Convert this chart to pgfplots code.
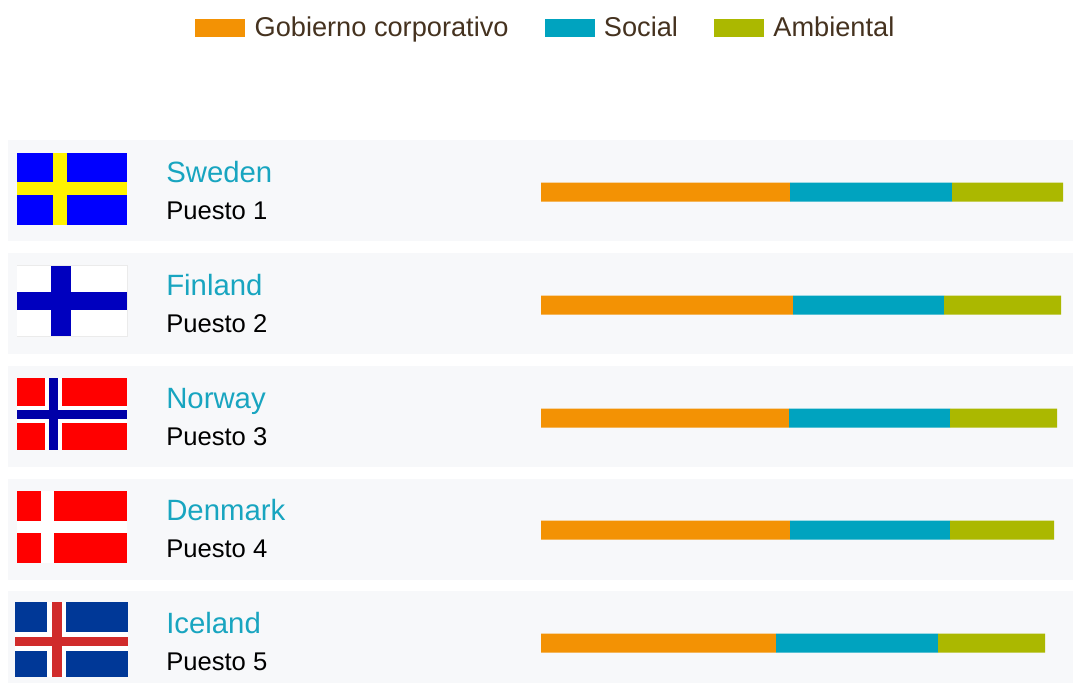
\documentclass[border=0pt]{standalone}
\usepackage{pgfplots}
\usepackage{pgfplotstable}
\usepackage{fontspec}
\pgfplotsset{compat=1.18}
\setmainfont{Liberation Sans}

\definecolor{gob}{HTML}{F39204}
\definecolor{soc}{HTML}{00A3BF}
\definecolor{amb}{HTML}{ABB800}
\definecolor{panel}{HTML}{F7F8FA}
\definecolor{legtext}{HTML}{45321F}
\definecolor{cname}{HTML}{18A5C0}
\definecolor{isblue}{HTML}{003897}
\definecolor{isred}{HTML}{D02B2B}

% rectangle given in picture pixels (bars start at x = 541)
\newcommand{\pxbox}[5]{\fill[#5] (axis cs:#1-541,#2) rectangle (axis cs:#3-541,#4);}
\newcommand{\country}[3]{%
  \node[anchor=base west,text=cname,font=\fontsize{22}{22}\selectfont,inner sep=0pt] at (axis cs:166-541,#2) {#1};
  \node[anchor=base west,text=black,font=\fontsize{19.2}{19.2}\selectfont,inner sep=0pt] at (axis cs:166-541,#2+37) {Puesto #3};
}

\pgfplotstableread{
y   gob soc amb
192 249 162 111
305 252 151 117
418 248 161 107
530 249 160 104
643 235 162 107
}\scores

\begin{document}
\begin{tikzpicture}
\begin{axis}[
    scale only axis,
    width=804.75pt, height=512.25pt,
    xmin=-541, xmax=532,
    ymin=0, ymax=683,
    y dir=reverse,
    hide axis,
    xbar stacked,
    reverse stacked plots=false,
    bar width=14.25pt,
    clip=false,
    legend columns=3,
    legend style={
        at={(axis cs:195-541,28)}, anchor=west,
        draw=none, fill=none, inner sep=0pt,
        font=\fontsize{20.4}{20.4}\selectfont, text=legtext,
        /tikz/column 1/.style={column sep=5pt},
        /tikz/column 2/.style={column sep=25pt},
        /tikz/column 3/.style={column sep=5pt},
        /tikz/column 4/.style={column sep=25pt},
        /tikz/column 5/.style={column sep=5pt},
    },
    legend image code/.code={
        \fill[#1] (0pt,-6.75pt) rectangle (37.5pt,6.75pt);
    },
]
\pxbox{0}{0}{1073}{683}{white}
% panels
\pxbox{8}{140}{1073}{241}{panel}
\pxbox{8}{253}{1073}{354}{panel}
\pxbox{8}{365.5}{1073}{467}{panel}
\pxbox{8}{478.5}{1073}{580}{panel}
\pxbox{8}{591}{1073}{683}{panel}
% Sweden
\pxbox{17}{153}{127}{225}{blue}
\pxbox{52.7}{153}{67}{225}{yellow}
\pxbox{17}{182.3}{127}{195.3}{yellow}
% Finland
\pxbox{16.5}{265}{127.5}{336.7}{black!8}
\pxbox{17.2}{265.7}{126.8}{336}{white}
\pxbox{50.7}{265.7}{71}{336}{blue!75!black}
\pxbox{17.2}{291.7}{126.8}{310.3}{blue!75!black}
% Norway
\pxbox{17}{378.3}{127}{450.3}{red}
\pxbox{45}{378.3}{61.7}{450.3}{white}
\pxbox{17}{406}{127}{422.7}{white}
\pxbox{48.7}{378.3}{58.3}{450.3}{blue!66!black}
\pxbox{17}{410}{127}{418.7}{blue!66!black}
% Denmark
\pxbox{17}{491}{127}{563}{red}
\pxbox{41}{491}{54.3}{563}{white}
\pxbox{17}{521.3}{127}{533.3}{white}
% Iceland
\pxbox{15.3}{602.3}{128}{677}{isblue}
\pxbox{47.3}{602.3}{65.7}{677}{white}
\pxbox{15.3}{632.3}{128}{650.7}{white}
\pxbox{52}{602.3}{61.7}{677}{isred}
\pxbox{15.3}{637}{128}{646.3}{isred}
% names
\country{Sweden}{182.5}{1}
\country{Finland}{295.5}{2}
\country{Norway}{408.5}{3}
\country{Denmark}{520.5}{4}
\country{Iceland}{633.5}{5}

\addplot[fill=gob,draw=none] table[x=gob,y=y] {\scores};
\addplot[fill=soc,draw=none] table[x=soc,y=y] {\scores};
\addplot[fill=amb,draw=none] table[x=amb,y=y] {\scores};
\addlegendentry{Gobierno corporativo}
\addlegendentry{Social}
\addlegendentry{Ambiental}
\end{axis}
\end{tikzpicture}
\end{document}
